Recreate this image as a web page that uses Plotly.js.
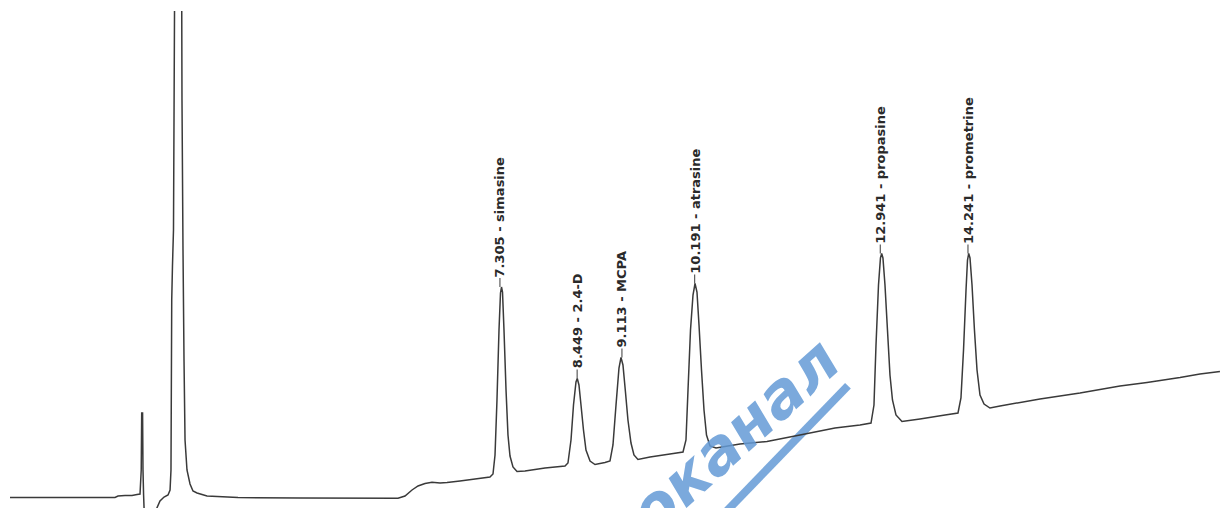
<!DOCTYPE html>
<html>
<head>
<meta charset="utf-8">
<script src="https://cdn.plot.ly/plotly-3.0.1.min.js"></script>
<style>html,body{margin:0;padding:0;background:#fff;}#chart{width:1225px;height:508px;}</style>
</head>
<body>
<div id="chart"></div>
<script>
// Retention time, min
const time = [
  0.044, 0.785, 1.600, 1.645, 1.749, 1.852, 1.927, 1.971, 1.989, 1.996, 2.009, 2.015, 2.024, 2.033,
  2.119, 2.208, 2.267, 2.327, 2.386, 2.416, 2.430, 2.441, 2.452, 2.467, 2.497, 2.571, 2.589, 2.593,
  2.608, 2.623, 2.638, 2.667, 2.712, 2.756, 2.816, 2.964, 3.423, 4.342, 5.794, 5.898, 6.002, 6.091,
  6.194, 6.298, 6.417, 6.521, 6.713, 6.936, 7.157,
  7.202, 7.232, 7.261, 7.291, 7.313, 7.328, 7.343, 7.365, 7.395, 7.424, 7.454, 7.498, 7.558, 7.676,
  7.973, 8.269,
  8.313, 8.358, 8.395, 8.432, 8.451, 8.476, 8.506, 8.543, 8.580, 8.640, 8.714, 8.862,
  8.936, 8.980, 9.025, 9.069, 9.099, 9.128, 9.165, 9.202, 9.247, 9.291, 9.350, 9.529, 9.825, 10.018,
  10.062, 10.092, 10.129, 10.166, 10.196, 10.225, 10.255, 10.292, 10.329, 10.366, 10.418, 10.507,
  10.862, 11.262, 11.751, 12.270, 12.641, 12.804,
  12.848, 12.878, 12.915, 12.944, 12.962, 12.981, 13.011, 13.048, 13.085, 13.122, 13.174, 13.263,
  13.530, 13.901, 14.093,
  14.137, 14.175, 14.212, 14.234, 14.252, 14.271, 14.301, 14.337, 14.375, 14.419, 14.479, 14.567,
  14.716, 15.308, 15.901, 16.494, 16.894, 17.383, 17.679, 17.975
];
// Detector signal, mV
const signal = [
  2.5, 2.5, 2.5, 4, 4.5, 4.5, 5.5, 6, 30, 87, 87, 30, 5, -12,
  -15, -10, -1, 3, 5, 10, 30, 200, 234, 270, 700, 700, 500, 400,
  250, 140, 60, 30, 16, 9, 7, 4, 2.5, 2, 1.7, 4, 10, 14,
  16.5, 17.7, 17, 17.5, 19, 21, 23,
  26, 45, 100, 170, 207, 213, 208, 170, 110, 65, 44, 33, 28.5, 29,
  32, 34,
  37, 60, 95, 118, 121.5, 115, 95, 70, 50, 39, 35.5, 37.5,
  39, 55, 95, 132, 142.5, 135, 108, 80, 57, 45, 40.5, 43, 46, 48,
  60, 110, 170, 205, 216.5, 208, 175, 130, 90, 65, 54, 52,
  56, 58.5, 65, 72, 75, 77,
  95, 155, 215, 242, 246.5, 242, 215, 170, 125, 100, 85, 78.5,
  81, 85, 87,
  102, 150, 210, 240, 246.5, 242, 215, 170, 130, 105, 96, 92,
  94, 101, 107, 114, 117.5, 122.5, 126, 128.5
];
// Peak labels
const peakTimes = [7.305, 8.449, 9.113, 10.191, 12.941, 14.241];
const peakNames = ['simasine', '2.4-D', 'MCPA', 'atrasine', 'propasine', 'prometrine'];
const peakHeights = [213, 121.5, 142.5, 216.5, 246.5, 246.5];
const watermarkText = 'Экоканал';

const trace = {
  x: time, y: signal, type: 'scatter', mode: 'lines',
  line: {color: '#3a3a3a', width: 1.5, simplify: false},
  hoverinfo: 'skip'
};

const annotations = peakTimes.map((t, i) => ({
  x: t, y: peakHeights[i], xref: 'x', yref: 'y',
  text: t.toFixed(3) + ' - ' + peakNames[i],
  textangle: -90,
  showarrow: true, arrowhead: 0, arrowwidth: 1, arrowcolor: '#3a3a3a',
  ax: 0, ay: -9,
  xanchor: 'left', yanchor: 'middle',
  borderpad: 0,
  font: {family: 'DejaVu Sans', size: 13, color: '#2a2a2a', weight: 'bold'}
}));

annotations.push({
  xref: 'paper', yref: 'paper', x: 0.5727, y: 0.085,
  text: '<i>' + watermarkText + '</i>',
  textangle: -42, showarrow: false,
  xanchor: 'center', yanchor: 'middle',
  opacity: 0.85,
  font: {family: 'DejaVu Sans', size: 62, color: 'rgb(100,155,215)', weight: 'bold'}
});

const layout = {
  width: 1225, height: 508,
  margin: {l: 0, r: 0, t: 11, b: 0, pad: 0},
  paper_bgcolor: '#ffffff', plot_bgcolor: '#ffffff',
  showlegend: false,
  xaxis: {range: [-0.104, 18.05], visible: false, showgrid: false, zeroline: false, fixedrange: true},
  yaxis: {range: [-8, 489], visible: false, showgrid: false, zeroline: false, fixedrange: true},
  annotations: annotations,
  shapes: [{
    type: 'line', xref: 'paper', yref: 'paper',
    x0: 0.6922, y0: 0.246, x1: 0.5878, y1: -0.02,
    line: {color: 'rgb(100,155,215)', width: 8},
    opacity: 0.85, layer: 'below'
  }]
};

Plotly.newPlot('chart', [trace], layout, {displayModeBar: false, staticPlot: true});
</script>
</body>
</html>
